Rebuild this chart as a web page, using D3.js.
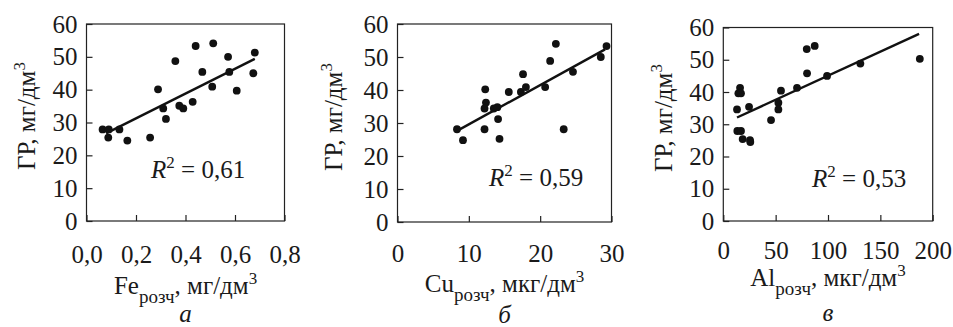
<!DOCTYPE html>
<html>
<head>
<meta charset="utf-8">
<script src="https://cdn.jsdelivr.net/npm/d3@7"></script>
<style>
  html, body { margin: 0; padding: 0; background: #fff; }
  svg { display: block; }
  text { font-family: 'Liberation Serif', 'DejaVu Serif', serif; fill: #1a1a1a; }
</style>
</head>
<body>
<div id="app"></div>
<script>
'use strict'

// Fe (mg/dm3) vs ГР
const feX = [0.065, 0.090, 0.088, 0.133, 0.165, 0.257, 0.289, 0.310, 0.321, 0.359, 0.375, 0.391, 0.429, 0.441, 0.468, 0.508, 0.512, 0.572, 0.577, 0.607, 0.674, 0.680]
const feY = [27.9, 27.9, 25.4, 27.9, 24.5, 25.4, 40.1, 34.3, 31.1, 48.7, 35.1, 34.3, 36.3, 53.3, 45.4, 40.9, 54.1, 50.0, 45.4, 39.7, 45.0, 51.3]
const feFit = [[0.079, 26.7], [0.680, 49.4]]

// Cu (mkg/dm3) vs ГР
const cuX = [8.34, 9.18, 12.3, 12.4, 12.2, 12.2, 13.5, 14.0, 14.1, 14.3, 15.6, 17.3, 17.6, 18.0, 20.7, 21.4, 22.2, 23.3, 24.6, 28.5, 29.3]
const cuY = [28.1, 24.8, 40.2, 36.2, 34.4, 28.1, 34.4, 34.8, 31.2, 25.2, 39.4, 39.4, 44.8, 40.9, 40.9, 48.8, 54.0, 28.1, 45.5, 50.0, 53.3]
const cuFit = [[8.34, 27.6], [29.1, 52.3]]

// Al (mkg/dm3) vs ГР
const alX = [13.1, 13.4, 16.9, 18.5, 25.5, 25.8, 16.0, 14.4, 16.9, 24.6, 45.6, 52.6, 52.6, 55.1, 70.4, 79.7, 87.3, 80.0, 99.1, 130.9, 187.7]
const alY = [34.6, 27.9, 27.9, 25.4, 25.1, 24.5, 41.3, 39.6, 39.6, 35.4, 31.3, 36.7, 34.6, 40.4, 41.3, 53.3, 54.3, 45.8, 45.0, 48.8, 50.3]
const alFit = [[13.1, 32.1], [187.0, 58.0]]

const yTicks = [0, 10, 20, 30, 40, 50, 60]
const feTicks = [0, 0.2, 0.4, 0.6, 0.8]
const feTickLabels = ['0,0', '0,2', '0,4', '0,6', '0,8']
const cuTicks = [0, 10, 20, 30]
const alTicks = [0, 50, 100, 150, 200]
const r2Labels = ['0,61', '0,59', '0,53']
const xNames = ['Fe', 'Cu', 'Al']
const xUnits = ['мг/дм', 'мкг/дм', 'мкг/дм']
const panelLetters = ['а', 'б', 'в']

const W = 953, H = 327
const FS = 25

const svg = d3.select('#app').append('svg')
  .attr('width', W)
  .attr('height', H)

const panels = [
  { xs: feX, ys: feY, fit: feFit, dom: [0, 0.8], ticks: feTicks, fmt: (d, i) => feTickLabels[i],
    left: 86.5, right: 284.5, top: 24, bottom: 221, yLabX: 26, yLabC: 116, xPad: 24, xLabY: 294, letY: 322, r2: [151, 178] },
  { xs: cuX, ys: cuY, fit: cuFit, dom: [0, 30], ticks: cuTicks, fmt: d => d,
    left: 397.5, right: 611.5, top: 24, bottom: 222, yLabX: 333, yLabC: 117, xPad: 22, xLabY: 292, letY: 323, r2: [489, 186] },
  { xs: alX, ys: alY, fit: alFit, dom: [0, 200], ticks: alTicks, fmt: d => d,
    left: 723.3, right: 932.7, top: 27.5, bottom: 221, yLabX: 663, yLabC: 118, xPad: 20, xLabY: 286, letY: 321, r2: [812, 187] }
]

panels.forEach((p, k) => {
  const x = d3.scaleLinear().domain(p.dom).range([p.left, p.right])
  const y = d3.scaleLinear().domain([0, 60]).range([p.bottom, p.top])
  const g = svg.append('g')

  // frame
  g.append('rect')
    .attr('x', p.left).attr('y', p.top)
    .attr('width', p.right - p.left).attr('height', p.bottom - p.top)
    .style('fill', 'none').style('stroke', '#222').style('stroke-width', 1.2)

  // axes, ticks pointing inward
  const xAxis = g.append('g')
    .attr('transform', `translate(0, ${p.bottom})`)
    .call(d3.axisBottom(x).tickValues(p.ticks).tickFormat(p.fmt).tickSize(-6).tickPadding(p.xPad))
  const yAxis = g.append('g')
    .attr('transform', `translate(${p.left}, 0)`)
    .call(d3.axisLeft(y).tickValues(yTicks).tickSize(-6).tickPadding(9))
  ;[xAxis, yAxis].forEach(a => {
    a.select('.domain').remove()
    a.selectAll('line').style('stroke', '#222').style('stroke-width', 1.2)
    a.selectAll('text').style('font-family', "'Liberation Serif', serif").style('font-size', FS + 'px').style('fill', '#1a1a1a')
  })

  // regression line
  g.append('path')
    .datum(p.fit)
    .attr('d', d3.line().x(d => x(d[0])).y(d => y(d[1])))
    .style('stroke', '#111').style('stroke-width', 2.4).style('fill', 'none')

  // points
  g.selectAll('circle')
    .data(p.xs.map((v, i) => [v, p.ys[i]]))
    .enter()
    .append('circle')
    .attr('cx', d => x(d[0]))
    .attr('cy', d => y(d[1]))
    .attr('r', 3.9)
    .style('fill', '#111')

  // R^2 label
  const r2 = g.append('text')
    .attr('x', p.r2[0]).attr('y', p.r2[1])
    .style('font-size', FS + 'px')
  r2.append('tspan').style('font-style', 'italic').text('R')
  r2.append('tspan').attr('dy', -10).style('font-size', '17px').text('2')
  r2.append('tspan').attr('dy', 10).text(' = ' + r2Labels[k])

  // y axis title
  const yl = g.append('text')
    .attr('transform', `translate(${p.yLabX}, ${p.yLabC}) rotate(-90)`)
    .attr('text-anchor', 'middle')
    .attr('dy', '0.35em')
    .style('font-size', FS + 'px')
  yl.append('tspan').text('ГР, мг/дм')
  yl.append('tspan').attr('dy', -10).style('font-size', '17px').text('3')

  // x axis title
  const cx = (p.left + p.right) / 2
  const xl = g.append('text')
    .attr('x', cx).attr('y', p.xLabY)
    .attr('text-anchor', 'middle')
    .style('font-size', FS + 'px')
  xl.append('tspan').text(xNames[k])
  xl.append('tspan').attr('dy', 9).style('font-size', '19px').text('розч')
  xl.append('tspan').attr('dy', -9).text(', ' + xUnits[k])
  xl.append('tspan').attr('dy', -10).style('font-size', '17px').text('3')

  // panel letter
  g.append('text')
    .attr('x', cx).attr('y', p.letY)
    .attr('text-anchor', 'middle')
    .style('font-size', FS + 'px')
    .style('font-style', 'italic')
    .text(panelLetters[k])
})
</script>
</body>
</html>
